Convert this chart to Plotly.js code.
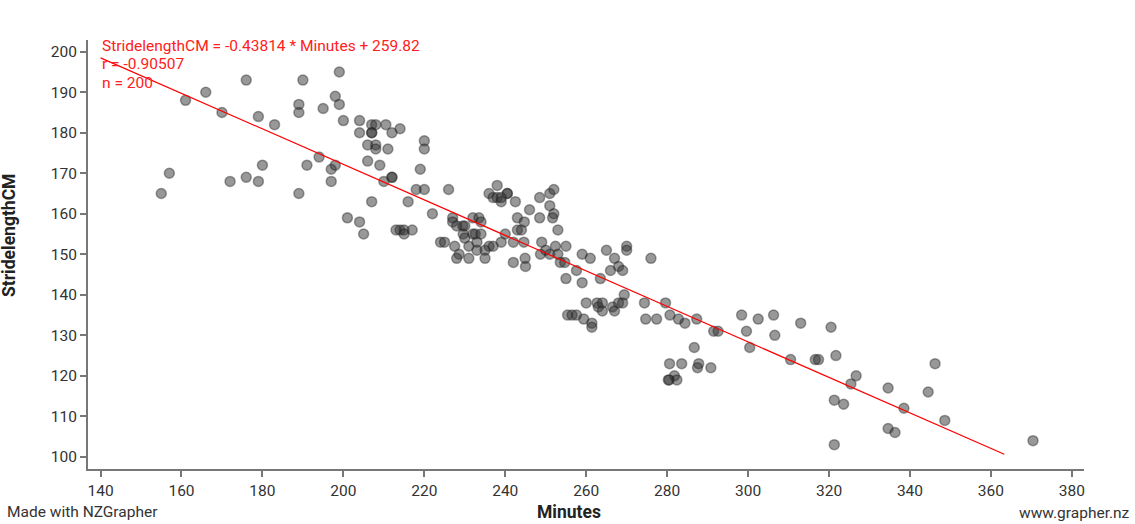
<!DOCTYPE html>
<html>
<head>
<meta charset="utf-8">
<script src="https://cdn.plot.ly/plotly-3.0.1.min.js"></script>
<style>
  html, body { margin: 0; padding: 0; background: #fff; }
  #chart { width: 1135px; height: 524px; }
</style>
</head>
<body>
<div id="chart"></div>
<script>
// values
var minutes = [176,190,199,166,161,170,179,183,189,189,195,198,199,200,194,191,197,198,197,189,180,176,179,172,157,155,
  204,204,207,208,207,210.5,214,212,206,208,208,211,220,220,206,209,212,212,210,219,218,220,226,207,216,222,201,204,205,
  214,215,215,217,224,225,227,227,228,229.5,230,232,233.5,234,238,236,237,238,240.5,240.5,239,242.5,246,248.5,251,252,251,
  252,248.5,251.7,243,244.7,243,244,240,242,244.6,249,250,251,252.4,253,248.7,245,242,244.9,239,232,232.6,229.6,230,227.5,
  231,233,233,235,236,237,228.6,228,231,235,
  253,255,253.6,254.7,255,257.6,259,261,259,263.5,265,267,270,270,266,268,269,276,269.4,260,262.7,263,264,266.5,267,268,269,
  255.4,256.5,257.6,259.4,261.4,261.4,274.4,274.7,277.4,279.6,280.7,282.8,284.4,287.3,291.5,292.6,286.7,298.4,302.5,306.3,
  299.6,306.6,300.4,
  313,320.5,310.5,316.6,317.4,321.7,326.7,325.4,321.3,323.6,321.3,334.6,338.5,334.6,336.3,346.2,344.5,348.6,370.4,
  280.6,283.6,287.8,287.5,290.8,281.8,280.5,282.4,280.3,
  207,213,234,264,239];

var strideCM = [193,193,195,190,188,185,184,182,187,185,186,189,187,183,174,172,171,172,168,165,172,169,168,168,170,165,
  183,180,182,182,180,182,181,180,177,177,176,176,178,176,173,172,169,169,168,171,166,166,166,163,163,160,159,158,155,
  156,156,155,156,153,153,159,158,157,157,157,159,159,158,167,165,164,164,165,165,163,163,161,164,165,166,162,160,
  159,159,159,158,156,156,155,153,153,153,151,150,152,150,150,147,148,149,153,155,155,155,154,152,
  152,153,151,151,152,152,150,149,149,149,
  156,152,148,148,144,146,150,149,143,144,151,149,152,151,146,147,146,149,140,138,138,137,136,137,136,138,138,
  135,135,135,134,133,132,138,134,134,138,135,134,133,134,131,131,127,135,134,135,
  131,130,127,
  133,132,124,124,124,125,120,118,114,113,103,117,112,107,106,123,116,109,104,
  123,123,123,122,122,120,119,119,119,
  180,156,155,138,164];

var slope = -0.43814;
var intercept = 259.82;
var fitMinutes = [140, 363.3];
var fitLabels = ['StridelengthCM = -0.43814 * Minutes + 259.82', 'r = -0.90507', 'n = 200'];

var xTicks = [140,160,180,200,220,240,260,280,300,320,340,360,380];
var yTicks = [100,110,120,130,140,150,160,170,180,190,200];

var points = {
  x: minutes,
  y: strideCM,
  mode: 'markers',
  type: 'scatter',
  marker: {
    size: 10,
    color: 'rgba(50,50,50,0.5)',
    line: {color: 'rgba(30,30,30,0.4)', width: 1.5}
  },
  hoverinfo: 'skip'
};

var fit = {
  x: fitMinutes,
  y: fitMinutes.map(function(m){ return slope * m + intercept; }),
  mode: 'lines',
  type: 'scatter',
  line: {color: '#ff0000', width: 1.2},
  hoverinfo: 'skip'
};

var fam = 'Roboto, "Noto Sans", sans-serif';
var txt = {family: fam, size: 15.5, color: '#333'};

var notes = fitLabels.map(function(t, i){
  return {
    text: t, xref: 'paper', yref: 'paper',
    x: 0.0125, y: [0.986, 0.944, 0.9][i],
    xanchor: 'left', yanchor: 'middle', showarrow: false,
    font: {family: fam, size: 15.5, color: '#ff2020'}
  };
});

notes.push({
  text: '<b>Minutes</b>', xref: 'paper', yref: 'paper',
  x: 0.4825, y: -0.1, xanchor: 'center', yanchor: 'middle', showarrow: false,
  font: {family: fam, size: 17.5, color: '#222'}
});
notes.push({
  text: '<b>StridelengthCM</b>', xref: 'paper', yref: 'paper',
  x: -0.0795, y: 0.545, xanchor: 'center', yanchor: 'middle', showarrow: false, textangle: -90,
  font: {family: fam, size: 17.5, color: '#222'}
});
notes.push({
  text: 'Made with NZGrapher', xref: 'paper', yref: 'paper',
  x: -0.0838, y: -0.1, xanchor: 'left', yanchor: 'middle', showarrow: false,
  font: {family: fam, size: 15.5, color: '#333'}
});
notes.push({
  text: 'www.grapher.nz', xref: 'paper', yref: 'paper',
  x: 1.0478, y: -0.102, xanchor: 'right', yanchor: 'middle', showarrow: false,
  font: {family: fam, size: 15.5, color: '#333'}
});

var axisStyle = {
  showgrid: false, zeroline: false,
  showline: true, linecolor: '#777', linewidth: 2,
  ticks: 'outside', ticklen: 6, tickwidth: 2, tickcolor: '#777',
  tickfont: txt
};

var layout = {
  width: 1135, height: 524,
  margin: {l: 88, r: 51, t: 40, b: 55},
  paper_bgcolor: '#fff', plot_bgcolor: '#fff',
  showlegend: false,
  hovermode: false,
  xaxis: Object.assign({}, axisStyle, {range: [136.9, 383], tickvals: xTicks}),
  yaxis: Object.assign({}, axisStyle, {range: [97, 202.9], tickvals: yTicks}),
  annotations: notes
};

Plotly.newPlot('chart', [points, fit], layout, {staticPlot: true});
</script>
</body>
</html>
